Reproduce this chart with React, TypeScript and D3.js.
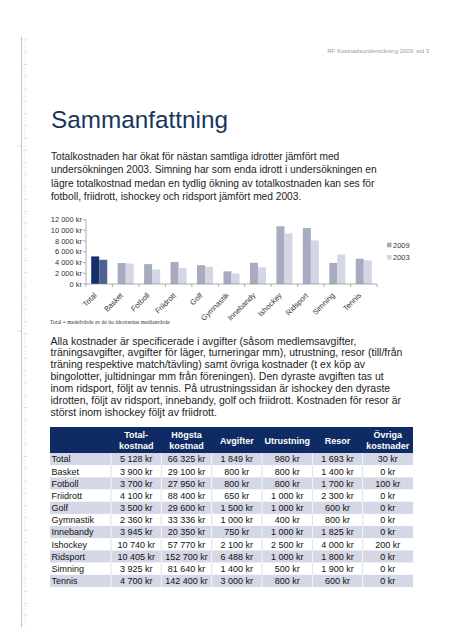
import React from 'react';
import * as d3 from 'd3';

// ---------- data ----------
const categories = ['Total', 'Basket', 'Fotboll', 'Friidrott', 'Golf', 'Gymnastik', 'Innebandy', 'Ishockey', 'Ridsport', 'Simning', 'Tennis'];
const values2009 = [5128, 3900, 3700, 4100, 3500, 2360, 3945, 10740, 10405, 3925, 4700];
const values2003 = [4500, 3800, 2700, 3000, 3200, 1950, 3100, 9400, 8100, 5500, 4400];
const seriesNames = ['2009', '2003'];
const yTickValues = [0, 2000, 4000, 6000, 8000, 10000, 12000];

const tableHeaders = [['Total-', 'kostnad'], ['Högsta', 'kostnad'], ['Avgifter'], ['Utrustning'], ['Resor'], ['Övriga', 'kostnader']];
const colTotal = [5128, 3900, 3700, 4100, 3500, 2360, 3945, 10740, 10405, 3925, 4700];
const colHogsta = [66325, 29100, 27950, 88400, 29600, 33336, 20350, 57770, 152700, 81640, 142400];
const colAvgifter = [1849, 800, 800, 650, 1500, 1000, 750, 2100, 6488, 1400, 3000];
const colUtrustning = [980, 800, 800, 1000, 1000, 400, 1000, 2500, 1000, 500, 800];
const colResor = [1693, 1400, 1700, 2300, 600, 800, 1825, 4000, 1800, 1900, 600];
const colOvriga = [30, 0, 100, 0, 0, 0, 0, 200, 0, 0, 0];

const headerText = 'RF Kostnadsundersökning 2009,  sid 3';
const titleText = 'Sammanfattning';
const para1 = [
  'Totalkostnaden har ökat för nästan samtliga idrotter jämfört med',
  'undersökningen 2003. Simning har som enda idrott i undersökningen en',
  'lägre totalkostnad medan en tydlig ökning av totalkostnaden kan ses för',
  'fotboll, friidrott, ishockey och ridsport jämfört med 2003.',
];
const para2 = [
  'Alla kostnader är specificerade i avgifter (såsom medlemsavgifter,',
  'träningsavgifter, avgifter för läger, turneringar mm), utrustning, resor (till/från',
  'träning respektive match/tävling) samt övriga kostnader (t ex köp av',
  'bingolotter, jultidningar mm från föreningen). Den dyraste avgiften tas ut',
  'inom ridsport, följt av tennis. På utrustningssidan är ishockey den dyraste',
  'idrotten, följt av ridsport, innebandy, golf och friidrott. Kostnaden för resor är',
  'störst inom ishockey följt av friidrott.',
];
const footnote = 'Total = medelvärde av de tio idrotternas medianvärde';

// ---------- styling ----------
const SANS = '"Liberation Sans", Arial, sans-serif';
const SERIF = '"Liberation Serif", "Times New Roman", serif';
const NAVY = '#17365d';
const HEAD_BG = '#0f2b63';
const STRIPE = '#d3d7e6';
const C2009 = '#a6abc0';
const C2003 = '#d3d6e4';
const CTOTAL2009 = '#132e6a';
const CTOTAL2003 = '#4c6292';

const locale = d3.formatLocale({ decimal: ',', thousands: ' ', grouping: [3], currency: ['', ''] });
const fmt = locale.format(',');
const kr = (v: number) => `${fmt(v)} kr`;

export default function App() {
  // chart scales
  const x = d3.scaleBand<string>().domain(categories).range([86, 377]).paddingInner(0).paddingOuter(0);
  const xs = d3.scaleBand<string>().domain(seriesNames).range([0, x.bandwidth()]).paddingInner(0).paddingOuter(0.65);
  const y = d3.scaleLinear().domain([0, 12000]).range([284, 219.5]);
  const series = [values2009, values2003];

  // table scales
  const tableCols = [colTotal, colHogsta, colAvgifter, colUtrustning, colResor, colOvriga];
  const colX = d3.scaleBand<number>().domain(d3.range(tableCols.length)).range([111, 413]);
  const rowY = d3.scaleBand<string>().domain(categories).range([453, 587]);
  const tableLeft = 50;
  const tableRight = 413;

  // ruler
  const rulerTicks = d3.range(40, 626, 2.45);

  return (
    <svg width={452} height={640} style={{ position: 'absolute', left: 0, top: 0, background: '#fff' }}>
      <rect x={0} y={0} width={452} height={640} fill="#fff" />

      {/* left ruler */}
      <line x1={21.5} x2={21.5} y1={37} y2={627} stroke="#c4c4c4" strokeWidth={1} />
      {rulerTicks.map((t, i) => (
        <line key={i} x1={23.5} x2={i % 5 === 0 ? 27 : 25.5} y1={t} y2={t} stroke={i % 5 === 0 ? '#c4c4c4' : '#dcdcdc'} strokeWidth={0.6} />
      ))}
      {[146, 331].map((t) => (
        <line key={t} x1={17} x2={21.5} y1={t} y2={t} stroke="#c4c4c4" strokeWidth={0.6} />
      ))}

      {/* header */}
      <text x={429} y={53} textAnchor="end" fontFamily={SANS} fontSize={6} fill="#9a9a9a">{headerText}</text>

      {/* title */}
      <text x={51} y={128} fontFamily={SANS} fontSize={24.3} fill={NAVY}>{titleText}</text>

      {/* paragraph 1 */}
      {para1.map((l, i) => (
        <text key={i} x={51} y={160 + i * 13.3} fontFamily={SANS} fontSize={10.2} fill="#222">{l}</text>
      ))}

      {/* chart */}
      <g>
        {yTickValues.map((v) => (
          <g key={v}>
            <line x1={83} x2={86} y1={y(v)} y2={y(v)} stroke="#8c8c8c" strokeWidth={0.7} />
            <text x={82} y={y(v)} dy="0.35em" textAnchor="end" fontFamily={SANS} fontSize={7.5} fill="#333">{`${fmt(v)} kr`}</text>
          </g>
        ))}
        {categories.map((c, ci) => (
          <g key={c} transform={`translate(${x(c)},0)`}>
            {series.map((s, si) => {
              const fill = ci === 0 ? (si === 0 ? CTOTAL2009 : CTOTAL2003) : si === 0 ? C2009 : C2003;
              return (
                <rect key={si} x={xs(seriesNames[si])} width={xs.bandwidth()} y={y(s[ci])} height={y(0) - y(s[ci])} fill={fill} />
              );
            })}
          </g>
        ))}
        <line x1={86} x2={86} y1={y(12000)} y2={y(0)} stroke="#8c8c8c" strokeWidth={0.7} />
        <line x1={86} x2={377} y1={y(0)} y2={y(0)} stroke="#8c8c8c" strokeWidth={0.7} />
        {[...categories.map((c) => x(c) as number), 377].map((t, i) => (
          <line key={i} x1={t} x2={t} y1={y(0)} y2={y(0) + 3} stroke="#8c8c8c" strokeWidth={0.7} />
        ))}
        {categories.map((c) => {
          const cx = (x(c) as number) + x.bandwidth() / 2;
          return (
            <text key={c} transform={`translate(${cx - 4},${294}) rotate(-45)`} dy="0.35em" textAnchor="end" fontFamily={SANS} fontSize={7.6} fill="#333">{c}</text>
          );
        })}
        {/* legend */}
        {seriesNames.map((s, i) => (
          <g key={s} transform={`translate(387,${245 + i * 12.3})`}>
            <rect x={0} y={-2.3} width={4.6} height={4.6} fill={i === 0 ? C2009 : C2003} />
            <text x={6} y={0} dy="0.35em" fontFamily={SANS} fontSize={7.5} fill="#333">{s}</text>
          </g>
        ))}
        <text x={50} y={324} fontFamily={SERIF} fontSize={5.6} fill="#333">{footnote}</text>
      </g>

      {/* paragraph 2 */}
      {para2.map((l, i) => (
        <text key={i} x={50.5} y={344.5 + i * 11.95} fontFamily={SANS} fontSize={10.5} fill="#222">{l}</text>
      ))}

      {/* table */}
      <g>
        <rect x={tableLeft} y={427} width={tableRight - tableLeft} height={26} fill={HEAD_BG} />
        {tableHeaders.map((h, i) => {
          const cx = (colX(i) as number) + colX.bandwidth() / 2;
          return (
            <text key={i} textAnchor="middle" fontFamily={SANS} fontSize={9} fontWeight="bold" fill="#fff">
              {h.map((line, j) => (
                <tspan key={j} x={cx} y={(h.length === 1 ? 444 : 438 + j * 11)}>{line}</tspan>
              ))}
            </text>
          );
        })}
        {categories.map((c, ri) => {
          const ry = rowY(c) as number;
          const rh = rowY.bandwidth();
          const shaded = ri % 2 === 0;
          return (
            <g key={c}>
              <rect x={tableLeft} y={ry} width={tableRight - tableLeft} height={rh} fill={shaded ? STRIPE : '#fff'} />
              {d3.range(tableCols.length).map((k) => (
                <line key={k} x1={colX(k) as number} x2={colX(k) as number} y1={ry} y2={ry + rh} stroke={shaded ? '#fff' : STRIPE} strokeWidth={0.8} />
              ))}
              <text x={51.5} y={ry + rh / 2} dy="0.36em" fontFamily={SANS} fontSize={9} fill="#111">{c}</text>
              {tableCols.map((col, k) => (
                <text key={k} x={(colX(k) as number) + colX.bandwidth() / 2} y={ry + rh / 2} dy="0.36em" textAnchor="middle" fontFamily={SANS} fontSize={9} fill="#111">{kr(col[ri])}</text>
              ))}
            </g>
          );
        })}
      </g>
    </svg>
  );
}
